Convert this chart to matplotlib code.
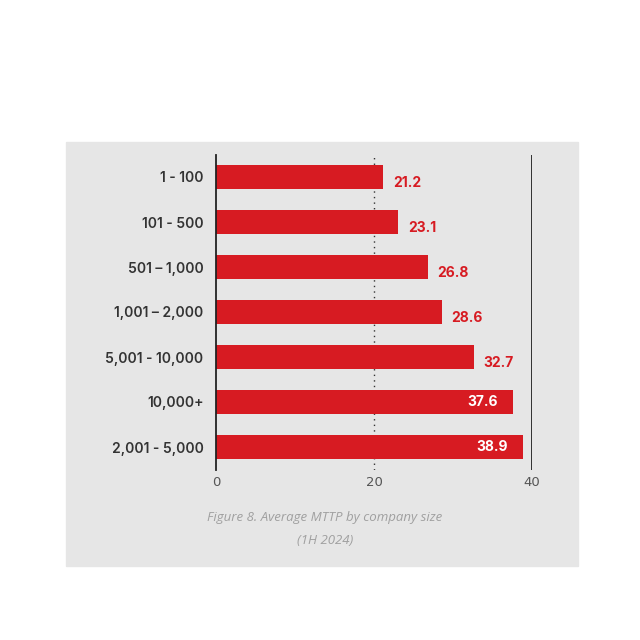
import matplotlib.pyplot as plt
from matplotlib.patches import Rectangle

# company size groups, top to bottom
groups = ["1 - 100", "101 - 500", "501 – 1,000", "1,001 – 2,000",
          "5,001 - 10,000", "10,000+", "2,001 - 5,000"]
mttp = [21.2, 23.1, 26.8, 28.6, 32.7, 37.6, 38.9]
inside = [False, False, False, False, False, True, True]

red = "#d71b22"
fig = plt.figure(figsize=(6.4, 6.4), dpi=100)
fig.patches.append(Rectangle((66 / 640, 1 - 566 / 640), 512 / 640, 424 / 640,
                             transform=fig.transFigure, color="#e6e6e6", zorder=-1))

ax = fig.add_axes([216 / 640, 1 - 469.5 / 640, 316 / 640, 315 / 640])
ax.set_facecolor("none")
ypos = list(range(len(groups)))
ax.barh(ypos, mttp, height=0.53, color=red, zorder=2)
ax.set_ylim(len(groups) - 0.5, -0.5)
ax.set_xlim(0, 40)

for y, v, ins in zip(ypos, mttp, inside):
    if ins:
        ax.text(v - 1.9, y, f"{v}", color="white", fontsize=10, fontweight="bold",
                ha="right", va="center", family="Inter", zorder=3)
    else:
        ax.text(v + 1.2, y + 0.13, f"{v}", color=red, fontsize=10, fontweight="bold",
                ha="left", va="center", family="Inter", zorder=3)

ax.axvline(20, color="#333333", linestyle=(0, (1, 3)), linewidth=1, zorder=1)
ax.axvline(40, color="#222222", linewidth=1.3, zorder=1)
for s in ["top", "right", "bottom"]:
    ax.spines[s].set_visible(False)
ax.spines["left"].set_color("#222222")
ax.spines["left"].set_linewidth(1.3)

ax.set_yticks(ypos)
ax.set_yticklabels(groups, fontsize=10, fontweight="semibold", color="#333333", family="Inter")
ax.tick_params(axis="y", length=0, pad=9)
ax.set_xticks([0, 20, 40])
ax.tick_params(axis="x", length=0, pad=5, labelsize=9.5, labelcolor="#555555")

fig.text(325 / 640, 1 - 517 / 640, "Figure 8. Average MTTP by company size",
         ha="center", va="center", style="italic", color="#a0a0a0", fontsize=9.5,
         family="Open Sans")
fig.text(325 / 640, 1 - 540 / 640, "(1H 2024)",
         ha="center", va="center", style="italic", color="#a0a0a0", fontsize=9.5,
         family="Open Sans")

fig.savefig("out.png", dpi=100, facecolor="white")
